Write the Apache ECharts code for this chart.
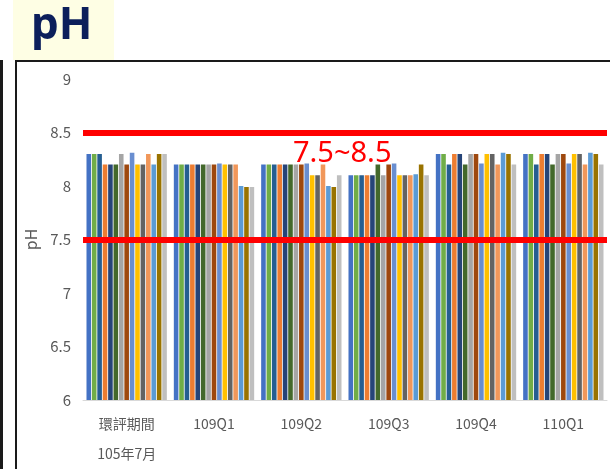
<!DOCTYPE html>
<html>
<head>
<meta charset="utf-8">
<script src="https://cdn.jsdelivr.net/npm/echarts@6/dist/echarts.min.js"></script>
<style>
  html, body { margin: 0; padding: 0; background: #fff; }
  #chart { width: 610px; height: 469px; }
</style>
</head>
<body>
<div id="chart"></div>
<script>
// Sampling periods
const categories = ['環評期間\n105年7月', '109Q1', '109Q2', '109Q3', '109Q4', '110Q1'];

// pH by station, one list per station across the periods
const st01 = [8.3, 8.2, 8.2, 8.1, 8.3, 8.3];
const st02 = [8.3, 8.2, 8.2, 8.1, 8.3, 8.3];
const st03 = [8.3, 8.2, 8.2, 8.1, 8.2, 8.2];
const st04 = [8.2, 8.2, 8.2, 8.1, 8.3, 8.3];
const st05 = [8.2, 8.2, 8.2, 8.1, 8.3, 8.3];
const st06 = [8.2, 8.2, 8.2, 8.2, 8.2, 8.2];
const st07 = [8.3, 8.2, 8.2, 8.1, 8.3, 8.3];
const st08 = [8.2, 8.2, 8.2, 8.2, 8.3, 8.3];
const st09 = [8.31, 8.21, 8.21, 8.21, 8.21, 8.21];
const st10 = [8.2, 8.2, 8.1, 8.1, 8.3, 8.3];
const st11 = [8.2, 8.2, 8.1, 8.1, 8.3, 8.3];
const st12 = [8.3, 8.2, 8.2, 8.1, 8.2, 8.2];
const st13 = [8.2, 8.0, 8.0, 8.11, 8.31, 8.31];
const st14 = [8.3, 7.99, 7.99, 8.2, 8.3, 8.3];
const st15 = [8.3, 7.99, 8.1, 8.1, 8.2, 8.2];

const stations = [st01, st02, st03, st04, st05, st06, st07, st08, st09, st10, st11, st12, st13, st14, st15];
const stationColors = ['#4472C4', '#70AD47', '#255E91', '#ED7D31', '#264478', '#43682B', '#A5A5A5',
  '#9E480E', '#698ED0', '#FFC000', '#636363', '#F1975A', '#5B9BD5', '#997300', '#BFBFBF'];

// Standard range
const limitLow = 7.5;
const limitHigh = 8.5;
const rangeText = '7.5~8.5';

const axisFont = '"Liberation Sans Narrow", "Noto Sans CJK TC", sans-serif';

const series = stations.map((vals, i) => ({
  name: '測站' + (i + 1),
  type: 'bar',
  data: vals,
  barGap: '18%',
  barCategoryGap: '8%',
  itemStyle: { color: stationColors[i] },
  silent: true
}));

series[0].markLine = {
  symbol: 'none',
  silent: true,
  label: { show: false },
  lineStyle: { color: '#FF0000', width: 6, type: 'solid' },
  data: [{ yAxis: limitHigh }, { yAxis: limitLow }]
};

const chart = echarts.init(document.getElementById('chart'), null, { renderer: 'canvas' });
chart.setOption({
  animation: false,
  backgroundColor: '#ffffff',
  grid: { left: 83, right: 3, top: 79, bottom: 67, containLabel: false },
  xAxis: {
    type: 'category',
    data: categories,
    axisTick: { show: false },
    axisLine: { show: true, lineStyle: { color: '#D9D9D9', width: 1 } },
    axisLabel: {
      color: '#595959',
      fontFamily: axisFont,
      fontSize: 14,
      lineHeight: 30,
      margin: 9
    }
  },
  yAxis: {
    type: 'value',
    min: 6,
    max: 9,
    interval: 0.5,
    name: 'pH',
    nameLocation: 'middle',
    nameGap: 34,
    nameTextStyle: { color: '#595959', fontSize: 16, fontFamily: axisFont },
    axisLine: { show: false },
    axisTick: { show: false },
    splitLine: { show: false },
    axisLabel: { color: '#595959', fontFamily: axisFont, fontSize: 15, margin: 12 }
  },
  series: series,
  graphic: [
    { type: 'rect', shape: { x: 13, y: 0, width: 101, height: 60 }, style: { fill: '#FEFEE4' }, silent: true },
    { type: 'text', left: 31, top: 4, style: { text: 'pH', font: 'bold 44px "Noto Sans", "DejaVu Sans", sans-serif', fill: '#0C1F5B' }, silent: true },
    { type: 'rect', shape: { x: 16, y: 61, width: 620, height: 440 }, style: { fill: 'none', stroke: '#1a1a1a', lineWidth: 2 }, silent: true },
    { type: 'line', shape: { x1: 1.5, y1: 60, x2: 1.5, y2: 469 }, style: { stroke: '#1a1a1a', lineWidth: 3 }, silent: true },
    { type: 'text', left: 293, top: 139, style: { text: rangeText, font: '29px "Noto Sans", "DejaVu Sans", sans-serif', fill: '#FF0000' }, silent: true, z: 10 }
  ]
});
</script>
</body>
</html>
